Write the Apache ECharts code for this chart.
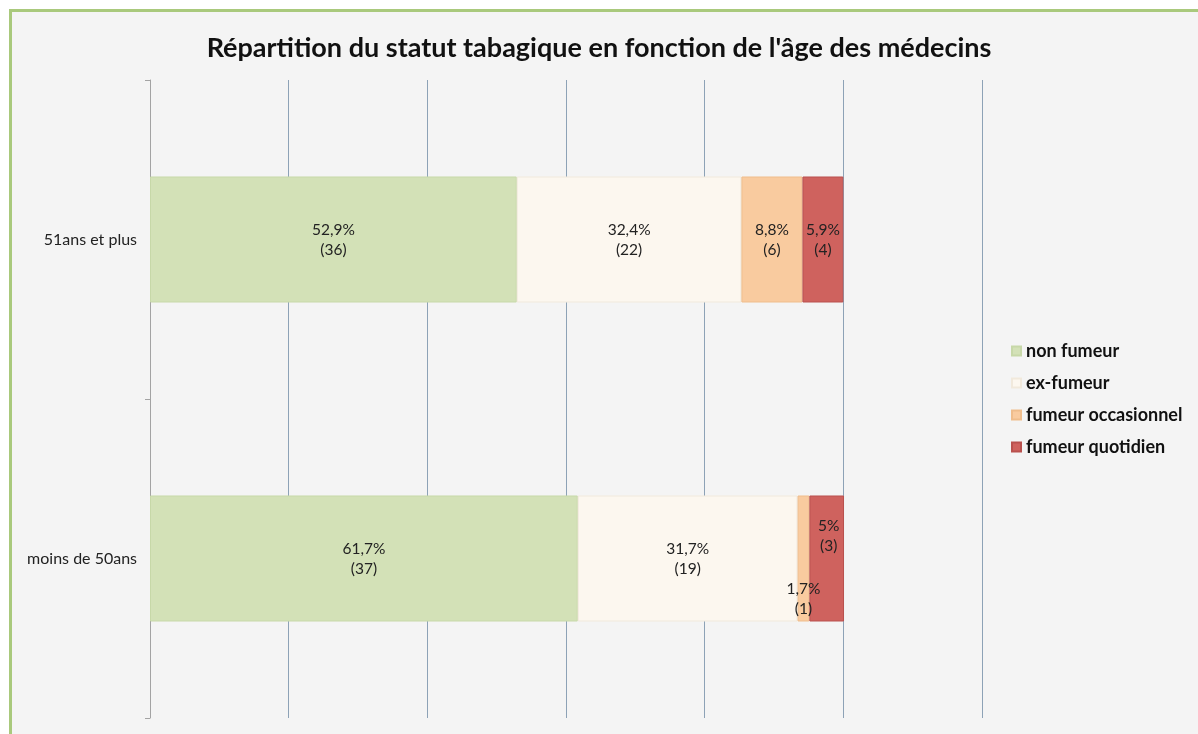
<!DOCTYPE html>
<html>
<head>
<meta charset="utf-8">
<script src="https://cdn.jsdelivr.net/npm/echarts@6/dist/echarts.min.js"></script>
<style>
  html, body { margin: 0; padding: 0; background: #ffffff; }
  #frame {
    position: absolute; left: 9px; top: 9px; width: 1200px; height: 730px;
    background: #f4f4f4; border-top: 3px solid #a9c97c; border-left: 3px solid #a9c97c;
  }
  #chart { position: absolute; left: 0; top: 0; width: 1198px; height: 734px; }
</style>
</head>
<body>
<div id="frame"></div>
<div id="chart"></div>
<script>
// tranches d'age (de bas en haut)
const categories = ['moins de 50ans', '51ans et plus']
const seriesNames = ['non fumeur', 'ex-fumeur', 'fumeur occasionnel', 'fumeur quotidien']
// pourcentages par statut, [moins de 50ans, 51ans et plus]
const nonFumeur = [61.7, 52.9]
const exFumeur = [31.7, 32.4]
const occasionnel = [1.7, 8.8]
const quotidien = [5, 5.9]
// effectifs
const nNonFumeur = [37, 36]
const nExFumeur = [19, 22]
const nOccasionnel = [1, 6]
const nQuotidien = [3, 4]

const colors = ['#d3e1b7', '#fcf7ef', '#f9cb9f', '#cf625e']
const borders = ['#c7d8a8', '#f1e9dc', '#efbd8c', '#b9514e']

const values = [nonFumeur, exFumeur, occasionnel, quotidien]
const counts = [nNonFumeur, nExFumeur, nOccasionnel, nQuotidien]

// les petites valeurs debordent du segment, comme dans Excel
const labelShift = {
  '2-0': [0, 40],
  '3-0': [2, -23]
}

const fmt = v => String(v).replace('.', ',')

const myChart = echarts.init(document.getElementById('chart'))
const option = {
  backgroundColor: 'transparent',
  textStyle: { fontFamily: 'Lato, "Open Sans", sans-serif' },
  title: {
    text: "Répartition du statut tabagique en fonction de l'âge des médecins",
    left: 'center',
    top: 30,
    textStyle: { fontSize: 27, fontWeight: 'bold', color: '#111', fontFamily: 'Lato, sans-serif' }
  },
  legend: {
    orient: 'vertical',
    left: 1006,
    top: 336,
    itemWidth: 9,
    itemHeight: 9,
    itemGap: 12,
    icon: 'rect',
    textStyle: { fontSize: 18, fontWeight: 'bold', color: '#111', lineHeight: 20 },
    data: seriesNames
  },
  grid: { left: 150, right: 216, top: 80, bottom: 16 },
  xAxis: {
    type: 'value',
    min: 0,
    max: 120,
    interval: 20,
    axisLabel: { show: false },
    axisLine: { show: false },
    axisTick: { show: false },
    splitLine: { show: true, lineStyle: { color: '#8da2b6', width: 1 } }
  },
  yAxis: {
    type: 'category',
    data: categories,
    axisLine: { show: true, lineStyle: { color: '#a3a3a3' } },
    axisTick: { show: true, length: 5, lineStyle: { color: '#a3a3a3' } },
    axisLabel: { margin: 13, fontSize: 16, color: '#222' }
  },
  series: seriesNames.map((name, s) => ({
    name: name,
    type: 'bar',
    stack: 'total',
    barWidth: '39.5%',
    itemStyle: { color: colors[s], borderColor: borders[s], borderWidth: 1 },
    label: {
      show: true,
      position: 'inside',
      fontSize: 15.5,
      lineHeight: 20,
      color: '#222'
    },
    data: values[s].map((v, i) => {
      const item = {
        value: v,
        label: { formatter: fmt(v) + '%\n(' + counts[s][i] + ')' }
      }
      const sh = labelShift[s + '-' + i]
      if (sh) item.label.offset = sh
      return item
    })
  }))
}
myChart.setOption(option)
</script>
</body>
</html>
